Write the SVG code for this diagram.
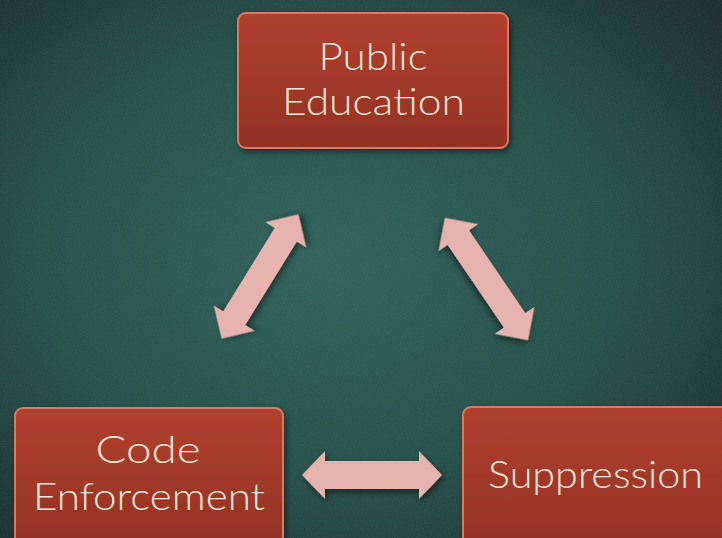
<svg xmlns="http://www.w3.org/2000/svg" width="722" height="538" viewBox="0 0 722 538">
  <defs>
    <radialGradient id="bg" cx="0.45" cy="0.48" r="0.72">
      <stop offset="0" stop-color="#2c5f58"/>
      <stop offset="0.55" stop-color="#224d48"/>
      <stop offset="1" stop-color="#15292d"/>
    </radialGradient>
    <linearGradient id="box" x1="0" y1="0" x2="0" y2="1">
      <stop offset="0" stop-color="#b1402f"/>
      <stop offset="1" stop-color="#933124"/>
    </linearGradient>
    <filter id="noise" x="0" y="0" width="100%" height="100%">
      <feTurbulence type="fractalNoise" baseFrequency="0.9" numOctaves="2" seed="3" result="n"/>
      <feColorMatrix type="matrix" values="0 0 0 0 0.5  0 0 0 0 0.5  0 0 0 0 0.5  0 0 0 0.12 0" />
    </filter>
    <filter id="shadow" x="-20%" y="-20%" width="140%" height="140%">
      <feDropShadow dx="2" dy="3" stdDeviation="3" flood-color="#000" flood-opacity="0.5"/>
    </filter>
  </defs>
  <style>
    .box { fill: url(#box); stroke: #d77a66; stroke-width: 2; filter: url(#shadow); }
    .label { font-family: "Lato", "Liberation Sans", sans-serif; font-weight: 300; fill: #f6e7dc; text-anchor: middle; }
    .arrow { fill: #e6b3ad; filter: url(#shadow); }
  </style>
  <rect width="722" height="538" fill="url(#bg)"/>
  <rect width="722" height="538" filter="url(#noise)"/>

  <g id="connectors">
    <path class="arrow" transform="translate(260,276.5) rotate(-58.3)" d="M -73,0 L -49,-24 L -49,-13 L 49,-13 L 49,-24 L 73,0 L 49,24 L 49,13 L -49,13 L -49,24 Z"/>
    <path class="arrow" transform="translate(486.5,279) rotate(55.8)" d="M -74,0 L -50,-24 L -50,-13 L 50,-13 L 50,-24 L 74,0 L 50,24 L 50,13 L -50,13 L -50,24 Z"/>
    <path class="arrow" transform="translate(372,475)" d="M -70,0 L -47,-24 L -47,-14 L 47,-14 L 47,-24 L 70,0 L 47,24 L 47,14 L -47,14 L -47,24 Z"/>
  </g>

  <g id="public-education">
    <rect class="box" x="238" y="13" width="270" height="135" rx="8"/>
    <text class="label" x="373" y="70" font-size="37" textLength="109" lengthAdjust="spacingAndGlyphs">Public</text>
    <text class="label" x="373.5" y="115" font-size="37" textLength="183" lengthAdjust="spacingAndGlyphs">Education</text>
  </g>

  <g id="code-enforcement">
    <rect class="box" x="15" y="408" width="268" height="145" rx="8"/>
    <text class="label" x="148" y="463" font-size="37" textLength="105" lengthAdjust="spacingAndGlyphs">Code</text>
    <text class="label" x="149" y="510" font-size="37" textLength="232" lengthAdjust="spacingAndGlyphs">Enforcement</text>
  </g>

  <g id="suppression">
    <rect class="box" x="463" y="407" width="275" height="146" rx="8"/>
    <text class="label" x="595.5" y="488" font-size="37" textLength="215" lengthAdjust="spacingAndGlyphs">Suppression</text>
  </g>
</svg>
